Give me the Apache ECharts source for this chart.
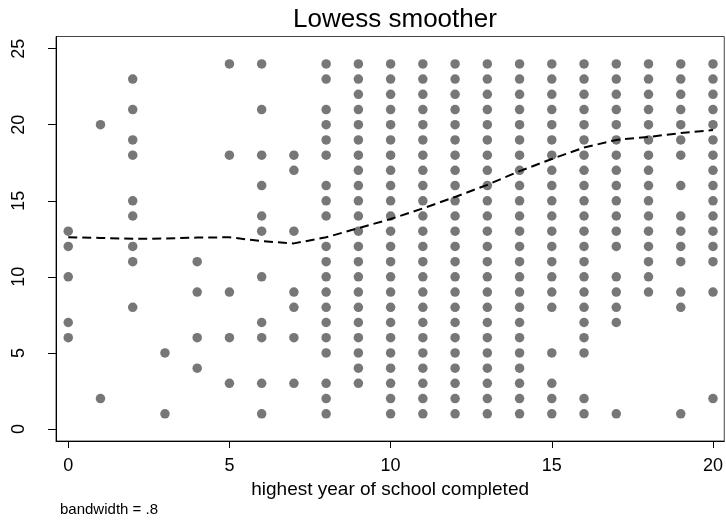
<!DOCTYPE html>
<html>
<head>
<meta charset="utf-8">
<script src="https://cdn.jsdelivr.net/npm/echarts@6/dist/echarts.min.js"></script>
<style>
  html, body { margin: 0; padding: 0; background: #fff; }
  #chart { width: 726px; height: 520px; }
</style>
</head>
<body>
<div id="chart"></div>
<script>
// Years of schooling on the horizontal axis
const schoolYears = [0, 1, 2, 3, 4, 5, 6, 7, 8, 9, 10, 11, 12, 13, 14, 15, 16, 17, 18, 19, 20];

// Observed outcome values present at each year of schooling
const valuesAtYear = [
  [13, 12, 10, 7, 6],
  [20, 2],
  [23, 21, 19, 18, 15, 14, 12, 11, 8],
  [5, 1],
  [11, 9, 6, 4],
  [24, 18, 9, 6, 3],
  [24, 21, 18, 16, 14, 13, 10, 7, 6, 3, 1],
  [18, 17, 13, 9, 8, 6, 3],
  [24, 23, 21, 20, 19, 18, 16, 15, 14, 12, 11, 10, 9, 8, 7, 6, 5, 3, 2, 1],
  [24, 23, 22, 21, 20, 19, 18, 17, 16, 15, 14, 13, 12, 11, 10, 9, 8, 7, 6, 5, 4, 3],
  [24, 23, 22, 21, 20, 19, 18, 17, 16, 15, 14, 13, 12, 11, 10, 9, 8, 7, 6, 5, 4, 3, 2, 1],
  [24, 23, 22, 21, 20, 19, 18, 17, 16, 15, 14, 13, 12, 11, 10, 9, 8, 7, 6, 5, 4, 3, 2, 1],
  [24, 23, 22, 21, 20, 19, 18, 17, 16, 15, 14, 13, 12, 11, 10, 9, 8, 7, 6, 5, 4, 3, 2, 1],
  [24, 23, 22, 21, 20, 19, 18, 17, 16, 15, 14, 13, 12, 11, 10, 9, 8, 7, 6, 5, 4, 3, 2, 1],
  [24, 23, 22, 21, 20, 19, 18, 17, 16, 15, 14, 13, 12, 11, 10, 9, 8, 7, 6, 5, 4, 3, 2, 1],
  [24, 23, 22, 21, 20, 19, 18, 17, 16, 15, 14, 13, 12, 11, 10, 9, 8, 5, 3, 2, 1],
  [24, 23, 22, 21, 20, 19, 18, 17, 16, 15, 14, 13, 12, 11, 10, 9, 8, 7, 6, 5, 2, 1],
  [24, 23, 22, 21, 20, 19, 18, 17, 16, 15, 14, 13, 12, 10, 9, 8, 7, 1],
  [24, 23, 22, 21, 20, 19, 18, 17, 16, 15, 14, 13, 12, 11, 10, 9],
  [24, 23, 22, 21, 20, 19, 18, 16, 14, 13, 12, 11, 9, 8, 1],
  [24, 23, 22, 21, 20, 19, 18, 17, 16, 15, 14, 13, 12, 11, 9, 2]
];

// Lowess fitted values at each year of schooling
const lowessFit = [12.6, 12.56, 12.5, 12.52, 12.58, 12.6, 12.35, 12.2, 12.6, 13.2, 13.8,
                   14.5, 15.25, 16.05, 16.95, 17.75, 18.5, 19.0, 19.2, 19.45, 19.65];

// Axis tick labels
const xTicks = [0, 5, 10, 15, 20];
const yTicks = [0, 5, 10, 15, 20, 25];

const scatterData = [];
schoolYears.forEach((yr, i) => {
  valuesAtYear[i].forEach(v => scatterData.push([yr, v]));
});
const lineData = schoolYears.map((yr, i) => [yr, lowessFit[i]]);

const chart = echarts.init(document.getElementById('chart'), null, { renderer: 'canvas' });
const fontFam = 'Liberation Sans, Arial, Helvetica, sans-serif';

chart.setOption({
  animation: false,
  backgroundColor: '#ffffff',
  title: {
    text: 'Lowess smoother',
    left: 390, top: 2, textAlign: 'center',
    textStyle: { fontFamily: fontFam, fontSize: 26, fontWeight: 'normal', color: '#000' }
  },
  grid: {
    left: 56, right: 1, top: 36.5, bottom: 79,
    show: true, borderColor: '#444', borderWidth: 1, backgroundColor: '#fff'
  },
  xAxis: {
    type: 'value', min: -0.38, max: 20.35,
    name: 'highest year of school completed',
    nameLocation: 'middle', nameGap: 32,
    nameTextStyle: { fontFamily: fontFam, fontSize: 19, color: '#000' },
    axisLine: { show: true, onZero: false, lineStyle: { color: '#000', width: 1 } },
    axisTick: { show: true, length: 7, customValues: xTicks, lineStyle: { color: '#000' } },
    axisLabel: { customValues: xTicks, margin: 16, fontFamily: fontFam, fontSize: 18, color: '#000' },
    splitLine: { show: false }
  },
  yAxis: {
    type: 'value', min: -0.79, max: 25.8,
    axisLine: { show: true, onZero: false, lineStyle: { color: '#000', width: 1 } },
    axisTick: { show: true, length: 8, customValues: yTicks, lineStyle: { color: '#000' } },
    axisLabel: { customValues: yTicks, rotate: 90, margin: 28, fontFamily: fontFam, fontSize: 18, color: '#000' },
    splitLine: { show: false }
  },
  graphic: [{
    type: 'text', left: 60, top: 502,
    style: { text: 'bandwidth = .8', fontFamily: fontFam, fontSize: 15, fill: '#000' }
  }],
  series: [{
    type: 'scatter',
    data: scatterData,
    symbol: 'circle',
    symbolSize: 9.5,
    itemStyle: { color: '#555555' },
    silent: true
  }, {
    type: 'line',
    data: lineData,
    showSymbol: false,
    smooth: false,
    lineStyle: { color: '#000', width: 2, type: [9, 5] },
    silent: true
  }]
});
</script>
</body>
</html>
